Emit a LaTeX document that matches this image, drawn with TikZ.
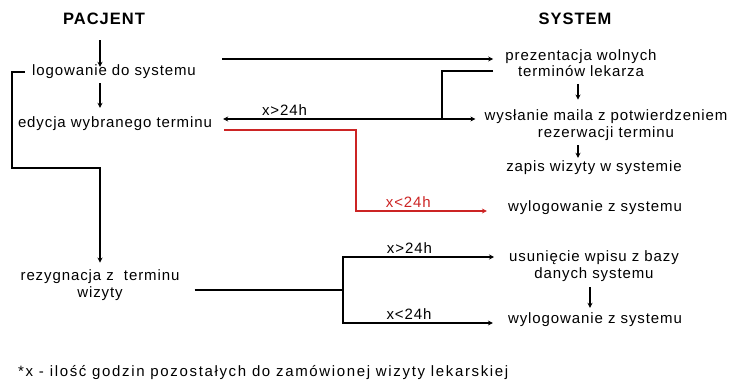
\documentclass[tikz,border=0pt]{standalone}
\usepackage{fontspec}
\setmainfont{Liberation Sans}
\newfontfamily\diagfont[LetterSpace=6]{Liberation Sans}
\newfontfamily\notefont[LetterSpace=11]{Liberation Sans}
\usetikzlibrary{arrows.meta}
\definecolor{linkred}{RGB}{204,36,36}
\tikzset{
  lbl/.style={font=\diagfont\fontsize{15}{16.5}\selectfont, align=center, inner sep=1pt},
  hdr/.style={font=\diagfont\fontsize{16.5}{18}\selectfont\bfseries, inner sep=1pt},
  cond/.style={font=\diagfont\fontsize{15}{16.5}\selectfont, above, inner sep=3pt},
  link/.style={line width=1.2pt},
}
\begin{document}
\begin{tikzpicture}[x=1pt,y=-1pt,>={Stealth[length=5pt,width=5pt]}]
\useasboundingbox (0,0) rectangle (731,382);
% naglowki
\node[hdr] (pac) at (104,19) {PACJENT};
\node[hdr] (sys) at (575,19) {SYSTEM};
% strona pacjenta
\node[lbl] (log) at (114,72) {logowanie do systemu};
\node[lbl] (edy) at (115,124) {edycja wybranego terminu};
\node[lbl] (rez) at (100,285) {rezygnacja z\ \ terminu\\wizyty};
% strona systemu
\node[lbl] (pre) at (581,63) {prezentacja wolnych\\terminów lekarza};
\node[lbl] (wys) at (606,125) {wysłanie maila z potwierdzeniem\\rezerwacji terminu};
\node[lbl] (zap) at (594,168) {zapis wizyty w systemie};
\node[lbl] (wyl1) at (595,208) {wylogowanie z systemu};
\node[lbl] (usu) at (594,266) {usunięcie wpisu z bazy\\danych systemu};
\node[lbl] (wyl2) at (595,320) {wylogowanie z systemu};
\node[lbl,font=\notefont\fontsize{15}{16.5}\selectfont,anchor=west] (uwaga) at (17,373) {*x - ilość godzin pozostałych do zamówionej wizyty lekarskiej};
% punkty pomocnicze
\coordinate (axL) at (100,0);
\coordinate (axS) at (578,0);
\coordinate (axU) at (590,0);
\coordinate (brk) at (12,168);
\coordinate (fork) at (442,119);
\coordinate (redC) at (356,211);
\coordinate (fork2) at (343,290);
\coordinate (logOut) at ([xshift=25pt]log.east);
\coordinate (preIn) at ([xshift=-11pt,yshift=4pt]pre.west);
\coordinate (preOut) at ([xshift=-11pt,yshift=-8pt]pre.west);
\coordinate (edyIn) at ([xshift=10pt]edy.east);
\coordinate (edyOut) at ([xshift=11pt,yshift=-6pt]edy.east);
\coordinate (wysIn) at ([xshift=-8pt]wys.west);
\coordinate (wyl1In) at ([xshift=-20pt]wyl1.west);
\coordinate (rezOut) at ([xshift=14pt]rez.east);
\coordinate (usuIn) at ([xshift=-14pt,yshift=9pt]usu.west);
\coordinate (wyl2In) at ([xshift=-14pt,yshift=-3pt]wyl2.west);
% pacjent
\draw[link,->,shorten <=14pt,shorten >=-3pt] (pac.south -| axL) -- (log.north -| axL);
\draw[link,->,shorten <=3pt,shorten >=8pt] (log.south -| axL) -- (edy.north -| axL);
\draw[link,->,shorten >=6pt] ([xshift=-6pt]log.west) -| (brk) -| (rez.north);
% przejscia
\draw[link,->] (preIn -| logOut) -- (preIn);
\draw[link] (preOut) -| (fork);
\draw[link,->] (fork) -- (fork -| edyIn) node[cond,pos=0.72]{x>24h};
\draw[link,->] (fork) -- (fork -| wysIn);
\draw[link,linkred,->] (edyOut) -| (redC) -- (redC -| wyl1In) node[cond,pos=0.4,text=linkred]{x<24h};
\draw[link] (rezOut |- fork2) -- (fork2);
\draw[link,->] (fork2) |- (usuIn) node[cond,pos=0.72]{x>24h};
\draw[link,->] (fork2) |- (wyl2In) node[cond,pos=0.72]{x<24h};
% system
\draw[link,->,shorten <=6pt,shorten >=9pt] (pre.south -| axS) -- (wys.north -| axS);
\draw[link,->,shorten <=4pt,shorten >=2pt] (wys.south -| axS) -- (zap.north -| axS);
\draw[link,->,shorten <=5pt,shorten >=4pt] (usu.south -| axU) -- (wyl2.north -| axU);
\end{tikzpicture}
\end{document}
